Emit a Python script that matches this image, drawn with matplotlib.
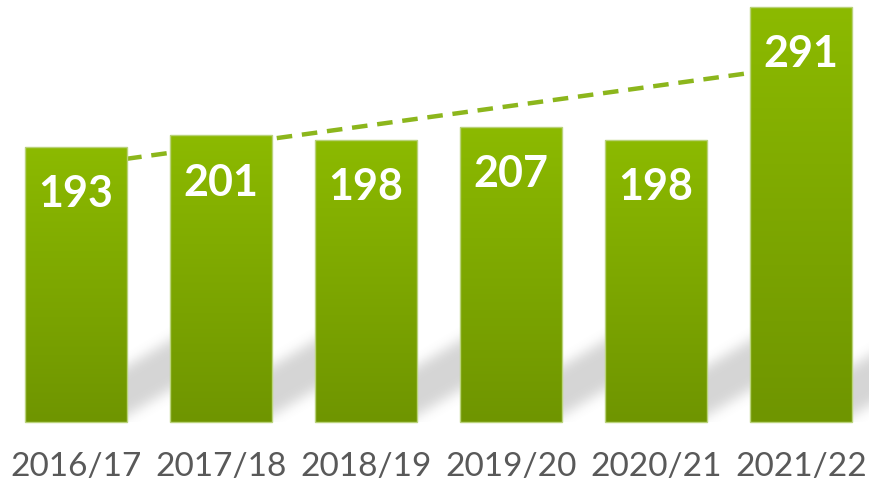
import matplotlib.pyplot as plt
from matplotlib.colors import LinearSegmentedColormap
import numpy as np

# dados
anos = ['2016/17', '2017/18', '2018/19', '2019/20', '2020/21', '2021/22']
valores = [193, 201, 198, 207, 198, 291]

plt.rcParams['font.family'] = ['Lato', 'DejaVu Sans']

fig = plt.figure(figsize=(8.7, 4.88), dpi=100)
ax = fig.add_axes([0, 0, 1, 1])
ax.set_xlim(-0.524, 5.476)
ax.set_ylim(-46.3, 295.9)
ax.axis('off')

x = np.arange(len(valores))
largura = 0.70

# sombra cinzenta entre as barras
sombra_y = np.linspace(0, 70, 140)
for i in x:
    x0 = i + largura / 2
    x1 = i + 1 - largura / 2
    u = np.linspace(0, 1, 60)
    U, Y = np.meshgrid(u, sombra_y)
    centro = 22 + 18 * U
    alpha = 0.30 * np.exp(-((Y - centro) / 19.0) ** 4)
    rgba = np.zeros(Y.shape + (4,))
    rgba[..., :3] = 0.45
    rgba[..., 3] = alpha
    ax.imshow(rgba, extent=(x0, x1, 0, 70), origin='lower', aspect='auto',
              zorder=1, interpolation='bilinear')

# linha de tendência
coef = np.polyfit(x, valores, 1)
xt = np.array([x[0], x[-1]])
ax.plot(xt, np.polyval(coef, xt), color='#8cb61c', lw=3.2,
        dashes=(3.5, 2.2), zorder=2, solid_capstyle='butt')

# barras com gradiente
cmap = LinearSegmentedColormap.from_list('verde', ['#6f9500', '#8cba00'])
grad = np.linspace(0, 1, 256).reshape(-1, 1)
barras = ax.bar(x, valores, width=largura, color='none',
                edgecolor='#b9d27a', linewidth=1.0, zorder=4)
for b in barras:
    xb, yb = b.get_x(), b.get_y()
    im = ax.imshow(grad, extent=(xb, xb + b.get_width(), yb, yb + b.get_height()),
                   origin='lower', aspect='auto', cmap=cmap, zorder=3)
    im.set_clip_path(b)

# rótulos dos valores
for xi, v in zip(x, valores):
    ax.annotate(str(v), (xi, v), xytext=(0, -34), textcoords='offset points',
                ha='center', va='center', color='white', fontsize=31,
                fontweight='bold', zorder=5)

# rótulos dos anos
for xi, a in zip(x, anos):
    ax.text(xi, -31.5, a, ha='center', va='center', color='#595959',
            fontsize=24)

fig.savefig('out.png', dpi=100)
